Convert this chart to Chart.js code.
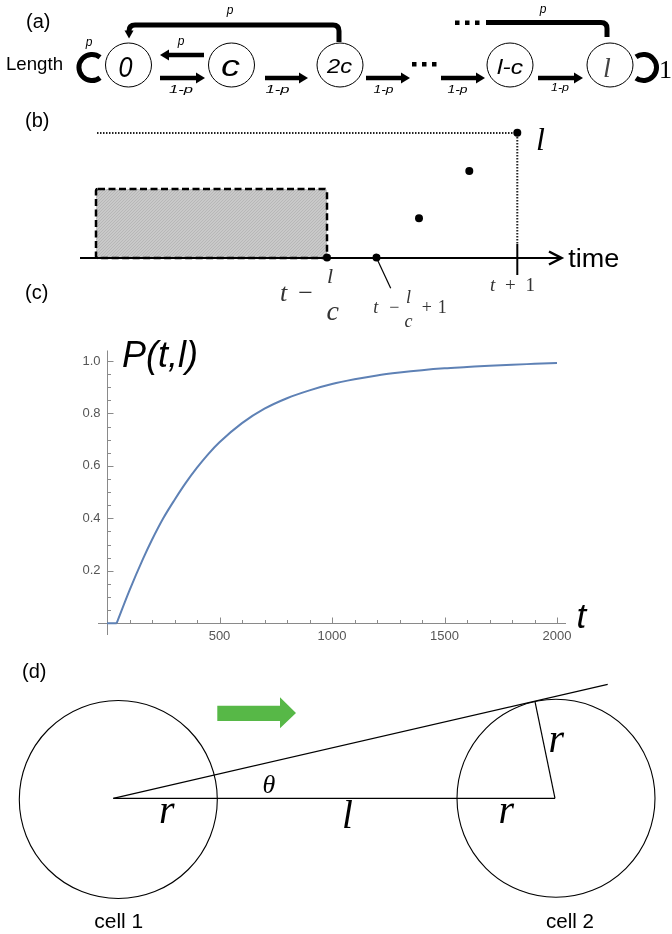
<!DOCTYPE html>
<html><head><meta charset="utf-8">
<script src="https://cdn.jsdelivr.net/npm/chart.js@4.4.1/dist/chart.umd.min.js"></script>
<style>
html,body{margin:0;padding:0;background:#fff;}
#wrap{position:relative;width:672px;height:934px;overflow:hidden;background:#fff;}
#chartBox{position:absolute;left:0;top:330px;width:672px;height:320px;}
#overlay{position:absolute;left:0;top:0;pointer-events:none;}
.sans{font-family:"Liberation Sans",Arial,sans-serif;}
.serif{font-family:"Liberation Serif","Times New Roman",serif;}
</style></head><body>
<div id="wrap">
<div id="chartBox"><canvas id="c" width="672" height="320"></canvas></div>
<svg id="overlay" width="672" height="934" viewBox="0 0 672 934" xmlns="http://www.w3.org/2000/svg">
<defs>
<pattern id="hatch" width="3" height="3" patternUnits="userSpaceOnUse">
<rect width="3" height="3" fill="#c9c9c9"/>
<path d="M0 3 L3 0" stroke="#b3b3b3" stroke-width="0.8"/>
</pattern>
</defs>

<!-- ===== (a) ===== -->
<g class="sans">
<text x="26" y="27.5" font-size="20">(a)</text>
<text x="6" y="70" font-size="19" textLength="57" lengthAdjust="spacingAndGlyphs">Length</text>
</g>
<g fill="none" stroke="#000" stroke-width="1">
<ellipse cx="128.5" cy="65" rx="23" ry="22"/>
<ellipse cx="231.5" cy="65" rx="23" ry="22"/>
<ellipse cx="340" cy="65" rx="23" ry="22"/>
<ellipse cx="510" cy="65" rx="23" ry="22"/>
<ellipse cx="610" cy="65" rx="23" ry="22"/>
</g>
<g class="sans" font-style="italic" text-anchor="middle">
<text x="125.5" y="76.5" font-size="29" textLength="14" lengthAdjust="spacingAndGlyphs">0</text>
<text x="230.5" y="76" font-size="30" textLength="19" lengthAdjust="spacingAndGlyphs">c</text>
<text x="339.5" y="73" font-size="21" textLength="25" lengthAdjust="spacingAndGlyphs">2c</text>
<text x="510" y="74" font-size="21" textLength="26" lengthAdjust="spacingAndGlyphs">l-c</text>
</g>
<text class="serif" x="607" y="76.5" font-size="28" font-style="italic" fill="#444" text-anchor="middle">l</text>
<!-- self loops -->
<g fill="none" stroke="#000" stroke-width="5">
<path d="M100 57.3 A13 13 0 1 0 100 77.7"/>
<path d="M636 56.9 A13 13 0 1 1 636 78.1"/>
</g>
<text class="serif" x="659" y="78" font-size="26">1</text>
<!-- forward / backward arrows -->
<g stroke="#000" stroke-width="4.5">
<line x1="160" y1="78" x2="197" y2="78"/>
<line x1="265" y1="78" x2="300" y2="78"/>
<line x1="366" y1="78" x2="402" y2="78"/>
<line x1="441" y1="78" x2="477" y2="78"/>
<line x1="538" y1="78" x2="575" y2="78"/>
<line x1="204" y1="55" x2="168" y2="55"/>
</g>
<g fill="#000">
<polygon points="196,72.5 205,78 196,83.5"/>
<polygon points="299,72.5 308,78 299,83.5"/>
<polygon points="401,72.5 410,78 401,83.5"/>
<polygon points="476,72.5 485,78 476,83.5"/>
<polygon points="574,72.5 583,78 574,83.5"/>
<polygon points="169,49.5 160,55 169,60.5"/>
<rect x="412" y="62" width="4.5" height="4.5"/>
<rect x="422" y="62" width="4.5" height="4.5"/>
<rect x="432" y="62" width="4.5" height="4.5"/>
<rect x="455" y="20.5" width="4.5" height="4.5"/>
<rect x="465" y="20.5" width="4.5" height="4.5"/>
<rect x="475" y="20.5" width="4.5" height="4.5"/>
<polygon points="124.5,30.5 133.5,30.5 129,38.5"/>
</g>
<g fill="none" stroke="#000" stroke-width="5">
<path d="M339 42 V31 Q339 25 333 25 H135 Q129 25 129 31 V32"/>
<path d="M486 22.5 H601 Q607 22.5 607 28.5 V37"/>
</g>
<g class="sans" font-style="italic" font-size="11" text-anchor="middle">
<text x="181" y="93" textLength="24" lengthAdjust="spacingAndGlyphs">1-p</text>
<text x="277.5" y="93" textLength="24" lengthAdjust="spacingAndGlyphs">1-p</text>
<text x="383.5" y="93" textLength="20" lengthAdjust="spacingAndGlyphs">1-p</text>
<text x="457.5" y="93" textLength="20" lengthAdjust="spacingAndGlyphs">1-p</text>
<text x="560" y="90.5" textLength="18" lengthAdjust="spacingAndGlyphs">1-p</text>
<text x="181" y="44.5" font-size="12">p</text>
<text x="89" y="46" font-size="12">p</text>
<text x="230" y="14.3" font-size="12">p</text>
<text x="543" y="12.5" font-size="12">p</text>
</g>

<!-- ===== (b) ===== -->
<text class="sans" x="25" y="127" font-size="20">(b)</text>
<text class="sans" x="25" y="299" font-size="20">(c)</text>
<line x1="97" y1="133" x2="517" y2="133" stroke="#222" stroke-width="2" stroke-dasharray="1.5 1.5"/>
<rect x="96" y="189" width="231" height="69" rx="2" fill="url(#hatch)" stroke="#000" stroke-width="2.5" stroke-dasharray="7 3.5"/>
<line x1="80" y1="258" x2="560" y2="258" stroke="#000" stroke-width="2"/>
<polyline points="549,251.5 561.5,258 549,264.5" fill="none" stroke="#000" stroke-width="2.5"/>
<line x1="517.3" y1="134" x2="517.3" y2="244" stroke="#222" stroke-width="2" stroke-dasharray="1.5 1.5"/>
<line x1="517.3" y1="244" x2="517.3" y2="275" stroke="#000" stroke-width="2"/>
<line x1="376.7" y1="258.3" x2="390.7" y2="288.3" stroke="#000" stroke-width="1.2"/>
<g fill="#000">
<circle cx="327" cy="257.5" r="4"/>
<circle cx="376.5" cy="257.5" r="4"/>
<circle cx="419" cy="218.3" r="4"/>
<circle cx="469.3" cy="171" r="4"/>
<circle cx="517.3" cy="132.7" r="4"/>
</g>
<text class="sans" x="568.3" y="266.7" font-size="26" textLength="51" lengthAdjust="spacingAndGlyphs">time</text>
<text class="serif" x="536" y="150" font-size="32" font-style="italic">l</text>
<g class="serif" fill="#333">
<text x="490" y="291" font-size="19" textLength="45" lengthAdjust="spacing"><tspan font-style="italic">t</tspan> + 1</text>
<text x="280" y="301" font-size="26" textLength="33" lengthAdjust="spacing"><tspan font-style="italic">t</tspan> −</text>
<text x="327" y="283" font-size="22" font-style="italic">l</text>
<text x="326.5" y="320" font-size="28" font-style="italic">c</text>
<text x="373.3" y="313" font-size="18" textLength="26" lengthAdjust="spacing"><tspan font-style="italic">t</tspan> −</text>
<text x="406" y="303" font-size="18" font-style="italic">l</text>
<text x="421.7" y="313" font-size="18" textLength="25" lengthAdjust="spacing">+ 1</text>
<text x="404.5" y="326.7" font-size="18" font-style="italic">c</text>
</g>

<!-- ===== (c) titles ===== -->
<text class="sans" x="122" y="366.7" font-size="36" font-style="italic" textLength="76" lengthAdjust="spacingAndGlyphs">P(t,l)</text>
<text class="sans" x="576.5" y="628" font-size="35" font-style="italic">t</text>

<!-- ===== (d) ===== -->
<text class="sans" x="22" y="678" font-size="20">(d)</text>
<g fill="none" stroke="#000" stroke-width="1.1">
<circle cx="118.3" cy="799.5" r="99"/>
<circle cx="556" cy="798.3" r="99"/>
</g>
<g stroke="#000" stroke-width="1.2">
<line x1="113.3" y1="798.3" x2="555" y2="798.3"/>
<line x1="113.3" y1="798.3" x2="607.7" y2="684.3"/>
<line x1="555" y1="798.3" x2="535" y2="701.7"/>
</g>
<polygon points="217.3,705.7 280,705.7 280,697.3 296,713 280,728.3 280,721 217.3,721" fill="#57b847"/>
<g class="serif" font-style="italic">
<text x="262.5" y="793" font-size="26">θ</text>
<text x="159" y="823" font-size="40">r</text>
<text x="342" y="828" font-size="39">l</text>
<text x="498.5" y="823" font-size="40">r</text>
<text x="548.5" y="751.7" font-size="40">r</text>
</g>
<g class="sans" font-size="20">
<text x="94.3" y="928.3" textLength="49" lengthAdjust="spacingAndGlyphs">cell 1</text>
<text x="546" y="928.3" textLength="48" lengthAdjust="spacingAndGlyphs">cell 2</text>
</g>
</svg>
</div>
<script>
// ---- data ----
const tValues = [0, 43, 100, 160, 200, 250, 300, 350, 400, 450, 500, 600, 700, 800, 900, 1000, 1100, 1200, 1300, 1400, 1500, 1600, 1700, 1800, 1900, 2000];
const pValues = [0, 0, 0.125, 0.245, 0.318, 0.40, 0.47, 0.535, 0.593, 0.645, 0.69, 0.763, 0.818, 0.858, 0.888, 0.912, 0.93, 0.945, 0.956, 0.965, 0.972, 0.977, 0.982, 0.986, 0.989, 0.992];
const xTickLabels = [500, 1000, 1500, 2000];
const yTickLabels = [0.2, 0.4, 0.6, 0.8, 1.0];
const xMinorStep = 100;
const yMinorStep = 0.05;

const lineColor = '#5E81B5';
const axisColor = '#8a8a8a';
const labelColor = '#555555';

// split into flat part and rising part (the curve has a corner where it leaves 0)
let onsetIdx = 0;
while (onsetIdx + 1 < pValues.length && pValues[onsetIdx + 1] === 0) onsetIdx++;
const flatPts = [], risePts = [];
tValues.forEach((t, i) => {
  const pt = {x: t, y: pValues[i]};
  if (i <= onsetIdx) flatPts.push(pt);
  if (i >= onsetIdx) risePts.push(pt);
});

const mathematicaAxes = {
  id: 'mathematicaAxes',
  beforeDatasetsDraw(chart) {
    const {ctx} = chart;
    const xs = chart.scales.x, ys = chart.scales.y;
    const x0 = Math.round(xs.getPixelForValue(0)) + 0.5;
    const y0 = Math.round(ys.getPixelForValue(0)) + 0.5;
    ctx.save();
    ctx.strokeStyle = axisColor;
    ctx.lineWidth = 1;
    ctx.beginPath();
    ctx.moveTo(xs.left, y0); ctx.lineTo(xs.right, y0);
    ctx.moveTo(x0, ys.top); ctx.lineTo(x0, ys.bottom);
    for (let k = 1; k * xMinorStep <= xs.max; k++) {
      const v = k * xMinorStep;
      const px = Math.round(xs.getPixelForValue(v)) + 0.5;
      const len = xTickLabels.includes(v) ? 6 : 3.5;
      ctx.moveTo(px, y0); ctx.lineTo(px, y0 - len);
    }
    for (let k = 1; k * yMinorStep <= ys.max + 1e-9; k++) {
      const v = +(k * yMinorStep).toFixed(2);
      const py = Math.round(ys.getPixelForValue(v)) + 0.5;
      const len = yTickLabels.some(m => Math.abs(m - v) < 1e-9) ? 6 : 3.5;
      ctx.moveTo(x0, py); ctx.lineTo(x0 + len, py);
    }
    ctx.stroke();
    ctx.fillStyle = labelColor;
    ctx.font = '13px "Liberation Sans", Arial, sans-serif';
    ctx.textAlign = 'center';
    ctx.textBaseline = 'alphabetic';
    xTickLabels.forEach(v => ctx.fillText(String(v), xs.getPixelForValue(v), y0 + 16.5));
    ctx.textAlign = 'right';
    ctx.textBaseline = 'middle';
    yTickLabels.forEach(v => ctx.fillText(v.toFixed(1), x0 - 7, ys.getPixelForValue(v)));
    ctx.restore();
  }
};

new Chart(document.getElementById('c'), {
  type: 'line',
  data: {
    datasets: [
      {data: flatPts, borderColor: lineColor, borderWidth: 2, pointRadius: 0, tension: 0, fill: false},
      {data: risePts, borderColor: lineColor, borderWidth: 2, pointRadius: 0, cubicInterpolationMode: 'monotone', fill: false}
    ]
  },
  options: {
    responsive: false,
    animation: false,
    devicePixelRatio: 1,
    layout: {padding: {left: 98, right: 106, top: 20.5, bottom: 15}},
    scales: {
      x: {type: 'linear', min: -40, max: 2040, display: false},
      y: {type: 'linear', min: -0.045, max: 1.04, display: false}
    },
    plugins: {legend: {display: false}, tooltip: {enabled: false}},
    events: []
  },
  plugins: [mathematicaAxes]
});
</script>
</body></html>
